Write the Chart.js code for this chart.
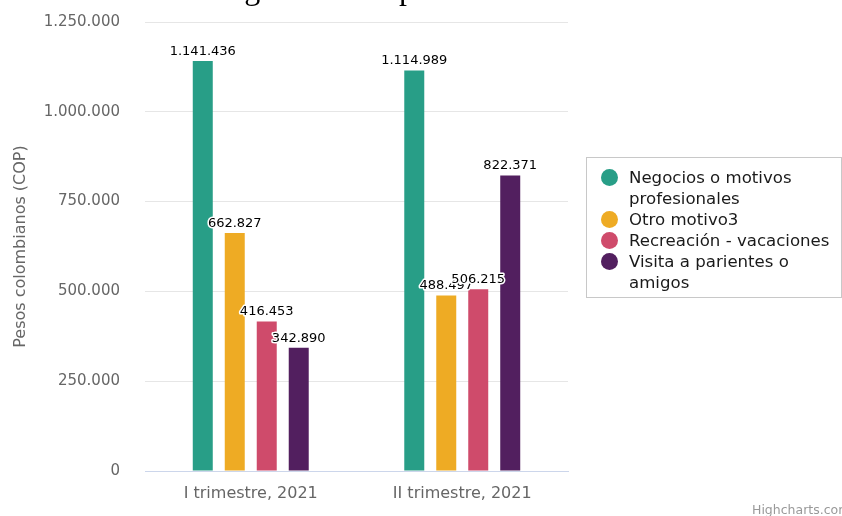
<!DOCTYPE html>
<html>
<head>
<meta charset="utf-8">
<script src="https://cdn.jsdelivr.net/npm/chart.js@4"></script>
<style>
  body { margin: 0; background: #fff; }
  #wrap { position: relative; width: 842px; height: 516px; overflow: hidden; }
  #myChart { position: absolute; left: 0; top: 0; }
  #legend {
    position: absolute; left: 586px; top: 157px; width: 256px; height: 141px;
    border: 1px solid #c8c8c8; box-sizing: border-box; padding: 9px 0 0 13px;
    font-family: "DejaVu Sans", sans-serif; font-size: 16.6px; color: #1a1a1a; line-height: 21px;
  }
  .item { position: relative; padding-left: 29px; width: 205px; }
  .dot { position: absolute; left: 1px; top: 2px; width: 17px; height: 17px; border-radius: 50%; }
  #credit {
    position: absolute; left: 752px; top: 502px; font-family: "DejaVu Sans", sans-serif;
    font-size: 12.5px; color: #999; white-space: nowrap;
  }
</style>
</head>
<body>
<div id="wrap">
  <canvas id="myChart" width="842" height="516"></canvas>
  <div id="legend"></div>
  <div id="credit">Highcharts.com</div>
</div>
<script>
const categories = ['I trimestre, 2021', 'II trimestre, 2021'];
const seriesNames = ['Negocios o motivos profesionales', 'Otro motivo3', 'Recreación - vacaciones', 'Visita a parientes o amigos'];
const negocios = [1141436, 1114989];
const otro = [662827, 488497];
const recreacion = [416453, 506215];
const visita = [342890, 822371];
const colors = ['#289e87', '#eeab24', '#cf4b6b', '#521f5f'];
const yTicks = [0, 250000, 500000, 750000, 1000000, 1250000];
const titleText = 'Gasto medio según motivo por trimestre';

function fmt(v) {
    return String(v).replace(/\B(?=(\d{3})+(?!\d))/g, '.');
}

const valueLabels = {
    id: 'valueLabels',
    afterDatasetsDraw(chart) {
        const ctx = chart.ctx;
        ctx.save();
        ctx.font = '13px "DejaVu Sans"';
        ctx.textAlign = 'center';
        ctx.textBaseline = 'bottom';
        ctx.lineJoin = 'round';
        chart.data.datasets.forEach((ds, i) => {
            chart.getDatasetMeta(i).data.forEach((bar, j) => {
                const txt = fmt(ds.data[j]);
                ctx.strokeStyle = '#fff';
                ctx.lineWidth = 3;
                ctx.strokeText(txt, bar.x, bar.y - 3);
                ctx.fillStyle = '#000';
                ctx.fillText(txt, bar.x, bar.y - 3);
            });
        });
        ctx.restore();
    }
};

// title sits mostly above the visible area, only descenders show
const cutTitle = {
    id: 'cutTitle',
    afterDraw(chart) {
        const ctx = chart.ctx;
        ctx.save();
        ctx.font = '32px "Liberation Serif"';
        ctx.fillStyle = '#000';
        ctx.textAlign = 'left';
        ctx.textBaseline = 'alphabetic';
        ctx.fillText(titleText, 47, -1);
        ctx.restore();
    }
};

window.onload = function () {
    const legend = document.getElementById('legend');
    seriesNames.forEach((name, i) => {
        const item = document.createElement('div');
        item.className = 'item';
        const dot = document.createElement('span');
        dot.className = 'dot';
        dot.style.background = colors[i];
        item.appendChild(dot);
        item.appendChild(document.createTextNode(name));
        legend.appendChild(item);
    });

    const ctx = document.getElementById('myChart').getContext('2d');
    const values = [negocios, otro, recreacion, visita];

    new Chart(ctx, {
        type: 'bar',
        data: {
            labels: categories,
            datasets: values.map((vals, i) => ({
                label: seriesNames[i],
                data: vals,
                backgroundColor: colors[i],
                borderWidth: 0,
                categoryPercentage: 0.605,
                barPercentage: 0.625
            }))
        },
        options: {
            responsive: false,
            animation: false,
            layout: { padding: { top: 22, right: 274, left: 0, bottom: 0 } },
            plugins: {
                legend: { display: false },
                tooltip: { enabled: false }
            },
            scales: {
                x: {
                    grid: { display: false, drawTicks: false },
                    border: { color: '#ccd6eb', width: 1 },
                    ticks: { color: '#666', padding: 13, font: { family: 'DejaVu Sans', size: 16 } },
                    afterFit(scale) { scale.height = 45; }
                },
                y: {
                    min: 0,
                    max: 1250000,
                    afterBuildTicks(scale) { scale.ticks = yTicks.map(v => ({ value: v })); },
                    grid: { color: '#e6e6e6', drawTicks: true, tickLength: 22, tickColor: 'rgba(0,0,0,0)' },
                    border: { display: false },
                    ticks: {
                        color: '#666', padding: 3,
                        font: { family: 'DejaVu Sans', size: 15 },
                        callback: v => fmt(v)
                    },
                    title: {
                        display: true,
                        text: 'Pesos colombianos (COP)',
                        color: '#666',
                        font: { family: 'DejaVu Sans', size: 16 },
                        padding: { top: 11, bottom: 0 }
                    },
                    afterFit(scale) { scale.width = 145; }
                }
            }
        },
        plugins: [valueLabels, cutTitle]
    });
};
</script>
</body>
</html>
